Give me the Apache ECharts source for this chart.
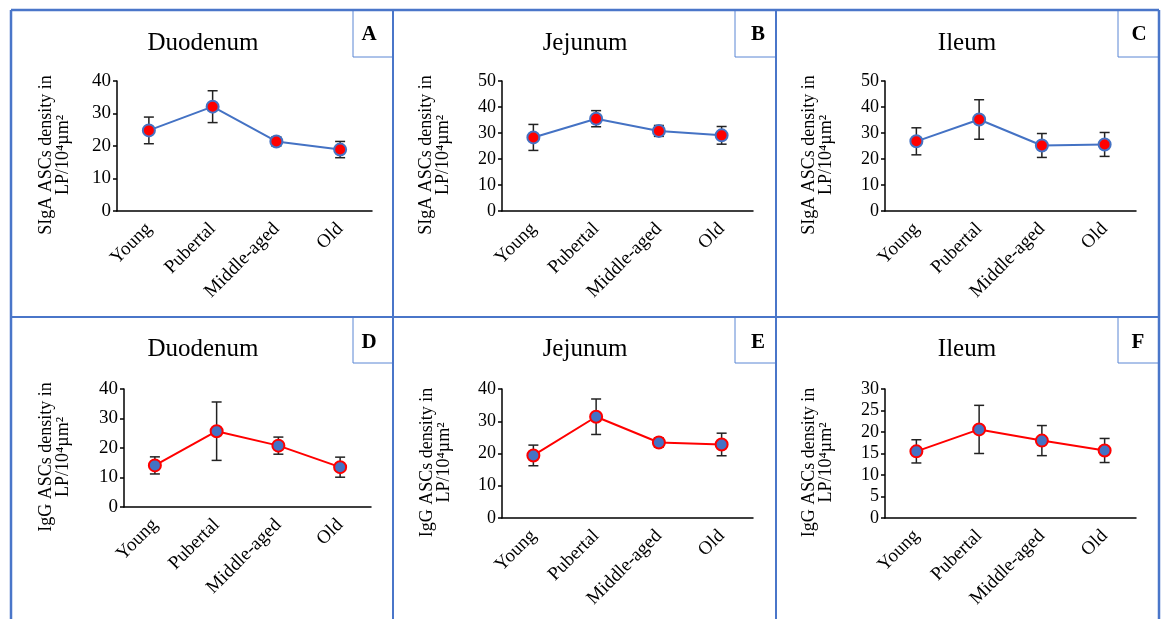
<!DOCTYPE html>
<html>
<head>
<meta charset="utf-8">
<script src="https://cdn.jsdelivr.net/npm/echarts@6/dist/echarts.min.js"></script>
<style>html,body{margin:0;padding:0;background:#fff}#c{width:1163px;height:619px}</style>
</head>
<body>
<div id="c"></div>
<script>
// ---- data ----
var categories = ['Young', 'Pubertal', 'Middle-aged', 'Old'];
var panelTitles = ['Duodenum', 'Jejunum', 'Ileum', 'Duodenum', 'Jejunum', 'Ileum'];
var panelLetters = ['A', 'B', 'C', 'D', 'E', 'F'];
var yNames = ['SIgA ASCs density in\nLP/10\u2074\u00b5m\u00b2', 'SIgA ASCs density in\nLP/10\u2074\u00b5m\u00b2', 'SIgA ASCs density in\nLP/10\u2074\u00b5m\u00b2',
              'IgG ASCs density in\nLP/10\u2074\u00b5m\u00b2', 'IgG ASCs density in\nLP/10\u2074\u00b5m\u00b2', 'IgG ASCs density in\nLP/10\u2074\u00b5m\u00b2'];
var yMax = [40, 50, 50, 40, 40, 30];
var yInterval = [10, 10, 10, 10, 10, 5];

var sigaDuodenumMean = [24.8, 32.1, 21.4, 18.9];
var sigaDuodenumSD   = [4.1, 4.9, 1.4, 2.5];
var sigaJejunumMean  = [28.3, 35.5, 30.8, 29.1];
var sigaJejunumSD    = [5.0, 3.1, 2.1, 3.4];
var sigaIleumMean    = [26.8, 35.2, 25.2, 25.6];
var sigaIleumSD      = [5.2, 7.6, 4.6, 4.6];
var iggDuodenumMean  = [14.1, 25.7, 20.8, 13.5];
var iggDuodenumSD    = [2.9, 9.9, 2.9, 3.4];
var iggJejunumMean   = [19.4, 31.4, 23.4, 22.8];
var iggJejunumSD     = [3.2, 5.5, 1.4, 3.5];
var iggIleumMean     = [15.5, 20.6, 18.0, 15.7];
var iggIleumSD       = [2.7, 5.6, 3.5, 2.8];

var means = [sigaDuodenumMean, sigaJejunumMean, sigaIleumMean, iggDuodenumMean, iggJejunumMean, iggIleumMean];
var sds = [sigaDuodenumSD, sigaJejunumSD, sigaIleumSD, iggDuodenumSD, iggJejunumSD, iggIleumSD];

// ---- layout ----
var FONT = '"Liberation Serif", "Times New Roman", serif';
var BLUE = '#4472C4';
var RED = '#FF0000';
var FRAME = '#4a76c9';
var grids = [
  {left: 117, top: 81, width: 255, height: 130},
  {left: 502, top: 81, width: 251, height: 130},
  {left: 885, top: 81, width: 251, height: 130},
  {left: 124, top: 389, width: 247, height: 118},
  {left: 502, top: 389, width: 251, height: 129},
  {left: 885, top: 389, width: 251, height: 129}
];
var nameGaps = [45, 50, 50, 52, 49, 50];
var tickFont = [19, 18, 18, 19, 18, 18];
var titlePos = [[203, 43], [585, 43], [967, 43], [203, 349], [585, 349], [967, 349]];
var letterPos = [[369, 35], [758, 35], [1139, 35], [369, 343], [758, 343], [1138, 343]];
var boxes = [[353, 10, 40, 47], [735, 10, 41, 47], [1118, 10, 41, 47], [353, 317, 40, 46], [735, 317, 41, 46], [1118, 317, 41, 46]];

var xAxes = [], yAxes = [], series = [], graphicEls = [];
for (var i = 0; i < 6; i++) {
  xAxes.push({
    type: 'category', gridIndex: i, data: categories, boundaryGap: true,
    axisLine: {lineStyle: {color: '#000', width: 1.5}},
    axisTick: {alignWithLabel: true, length: 6, lineStyle: {color: '#000', width: 1.5}},
    axisLabel: {rotate: 45, margin: 15, color: '#000', fontFamily: FONT, fontSize: 19, interval: 0}
  });
  yAxes.push({
    type: 'value', gridIndex: i, min: 0, max: yMax[i], interval: yInterval[i],
    name: yNames[i], nameLocation: 'middle', nameGap: nameGaps[i],
    nameTextStyle: {color: '#000', fontFamily: FONT, fontSize: 18, lineHeight: 17, padding: [0, 0, 0, -18]},
    axisLine: {show: true, lineStyle: {color: '#000', width: 1.5}},
    axisTick: {show: true, length: 4, lineStyle: {color: '#000', width: 1.5}},
    axisLabel: {margin: 6, color: '#000', fontFamily: FONT, fontSize: tickFont[i]},
    splitLine: {show: false}
  });
  var isUpper = i < 3;
  var errData = means[i].map(function (m, k) { return [k, m - sds[i][k], m + sds[i][k]]; });
  series.push({
    type: 'custom', xAxisIndex: i, yAxisIndex: i, z: 1, silent: true,
    data: errData,
    renderItem: function (params, api) {
      var x = api.value(0), lo = api.value(1), hi = api.value(2);
      var pH = api.coord([x, hi]), pL = api.coord([x, lo]);
      var w = 5, st = {stroke: '#222', lineWidth: 1.5};
      return {type: 'group', children: [
        {type: 'line', shape: {x1: pH[0], y1: pH[1], x2: pL[0], y2: pL[1]}, style: st},
        {type: 'line', shape: {x1: pH[0] - w, y1: pH[1], x2: pH[0] + w, y2: pH[1]}, style: st},
        {type: 'line', shape: {x1: pL[0] - w, y1: pL[1], x2: pL[0] + w, y2: pL[1]}, style: st}
      ]};
    }
  });
  series.push({
    type: 'line', xAxisIndex: i, yAxisIndex: i, z: 3, data: means[i],
    symbol: 'circle', symbolSize: 12,
    lineStyle: {color: isUpper ? BLUE : RED, width: 2},
    itemStyle: {color: isUpper ? RED : BLUE, borderColor: isUpper ? BLUE : RED, borderWidth: 2},
    animation: false
  });
}
// frames and panel labels drawn by graphic (decorations)
boxes.forEach(function (b) {
  graphicEls.push({type: 'rect', shape: {x: b[0], y: b[1], width: b[2], height: b[3]}, style: {fill: 'none', stroke: '#5b86d4', lineWidth: 1}});
});
graphicEls.push({type: 'line', shape: {x1: 11, y1: 10, x2: 1159, y2: 10}, style: {stroke: FRAME, lineWidth: 2.5}});
graphicEls.push({type: 'line', shape: {x1: 11, y1: 10, x2: 11, y2: 619}, style: {stroke: FRAME, lineWidth: 2.5}});
graphicEls.push({type: 'line', shape: {x1: 1159, y1: 10, x2: 1159, y2: 619}, style: {stroke: FRAME, lineWidth: 2.5}});
graphicEls.push({type: 'line', shape: {x1: 393, y1: 10, x2: 393, y2: 619}, style: {stroke: FRAME, lineWidth: 2}});
graphicEls.push({type: 'line', shape: {x1: 776, y1: 10, x2: 776, y2: 619}, style: {stroke: FRAME, lineWidth: 2}});
graphicEls.push({type: 'line', shape: {x1: 11, y1: 317, x2: 1159, y2: 317}, style: {stroke: FRAME, lineWidth: 2}});
for (var j = 0; j < 6; j++) {
  graphicEls.push({type: 'text', style: {text: panelLetters[j], x: letterPos[j][0], y: letterPos[j][1], textAlign: 'center', textVerticalAlign: 'middle',
    font: 'bold 21px ' + FONT, fill: '#000'}});
  graphicEls.push({type: 'text', style: {text: panelTitles[j], x: titlePos[j][0], y: titlePos[j][1], textAlign: 'center', textVerticalAlign: 'middle',
    font: '25px ' + FONT, fill: '#000'}});
}

var chart = echarts.init(document.getElementById('c'), null, {renderer: 'canvas'});
chart.setOption({
  backgroundColor: '#fff',
  animation: false,
  grid: grids,
  xAxis: xAxes,
  yAxis: yAxes,
  series: series,
  graphic: {elements: graphicEls}
});
</script>
</body>
</html>
